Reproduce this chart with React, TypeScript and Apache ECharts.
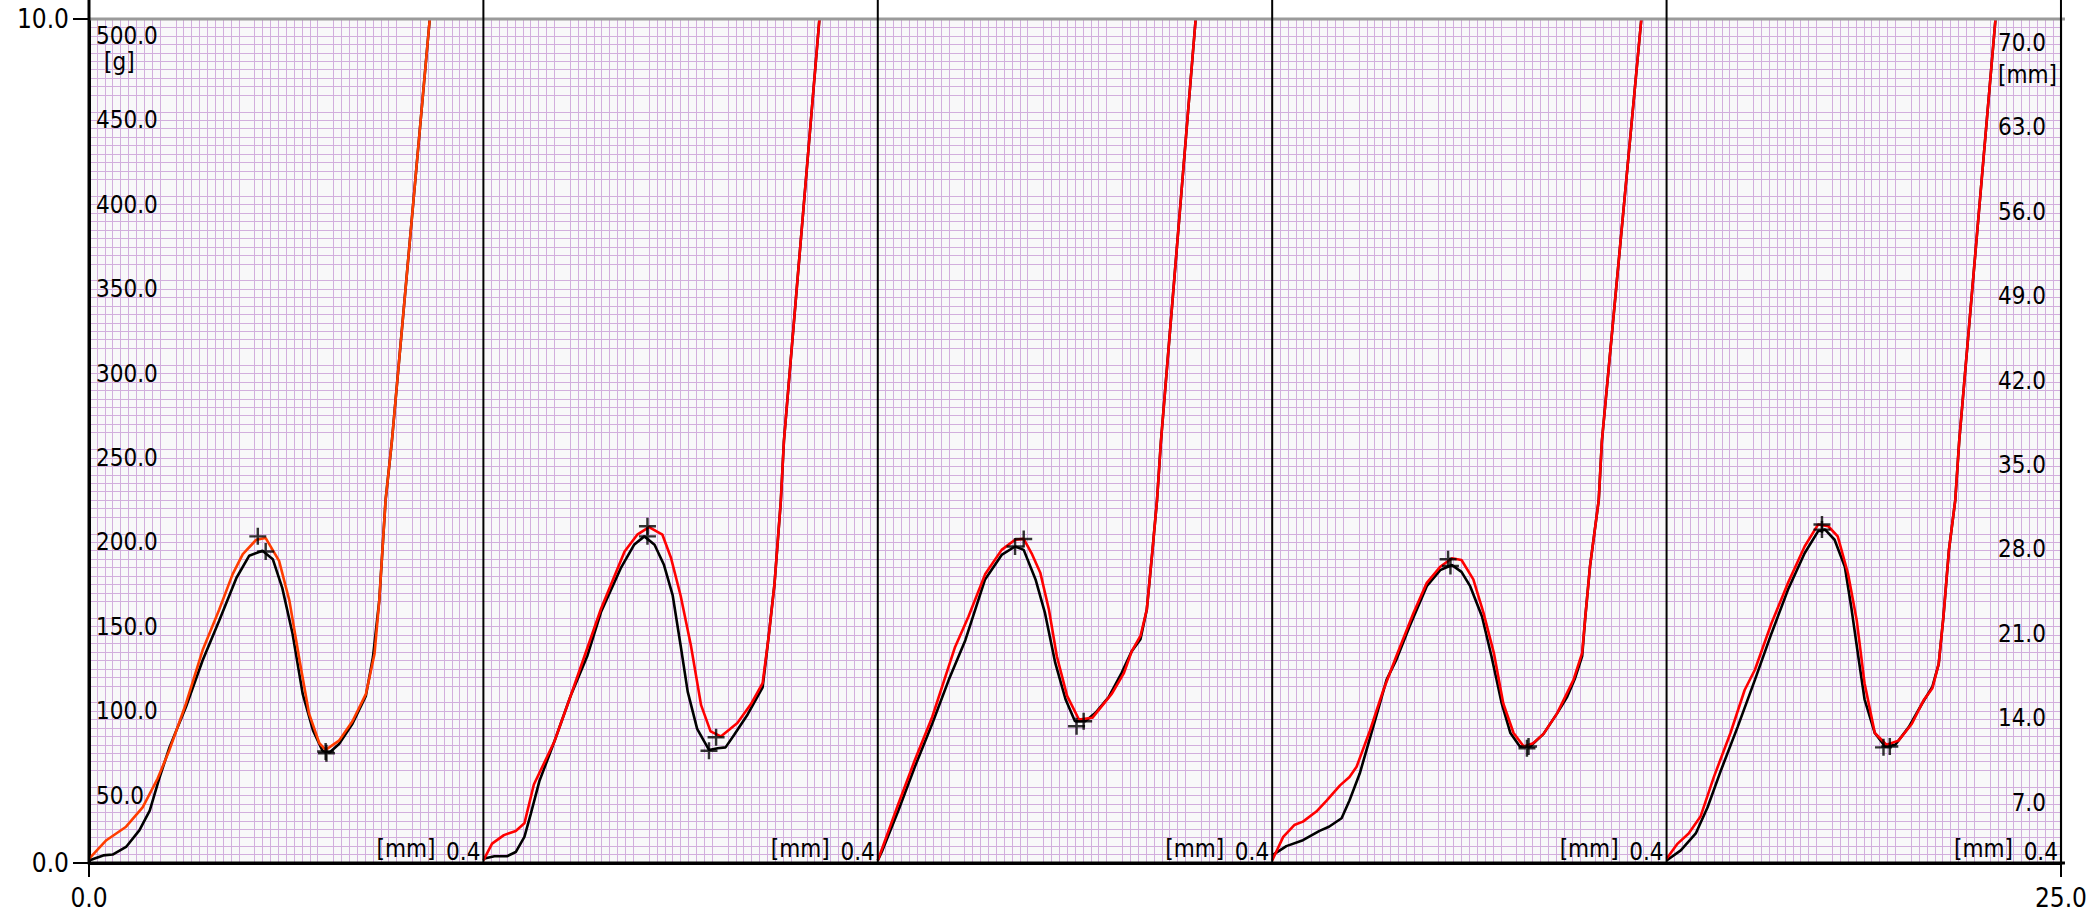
import React, { useEffect, useRef } from 'react';
import * as echarts from 'echarts';

const FONT = "'DejaVu Sans Condensed', 'DejaVu Sans', sans-serif";

const X_MIN = 0;
const X_MAX = 25;
const Y_MIN = 0;
const Y_MAX = 10;
const X_TICKS = [0, 25];
const Y_TICKS = [0, 10];
const PANEL_BOUNDS = [0, 5, 10, 15, 20, 25];

const LEFT_LABEL_POS = [10, 9, 8, 7, 6, 5, 4, 3, 2, 1];
const LEFT_LABELS = ['500.0', '450.0', '400.0', '350.0', '300.0', '250.0', '200.0', '150.0', '100.0', '50.0'];
const RIGHT_LABELS = ['70.0', '63.0', '56.0', '49.0', '42.0', '35.0', '28.0', '21.0', '14.0', '7.0'];

const P1_BLACK = [[0, 0.03], [0.18, 0.09], [0.3, 0.1], [0.47, 0.19], [0.64, 0.39], [0.77, 0.62], [0.89, 1.0], [1.02, 1.37], [1.23, 1.85], [1.44, 2.4], [1.65, 2.87], [1.87, 3.38], [2.03, 3.64], [2.2, 3.7], [2.33, 3.6], [2.45, 3.26], [2.58, 2.72], [2.71, 2.0], [2.84, 1.57], [2.96, 1.33], [3.05, 1.31], [3.17, 1.41], [3.34, 1.65], [3.51, 1.98], [3.6, 2.44], [3.68, 3.11], [3.76, 4.3], [3.84, 5], [4.32, 10]];
const P1_RED = [[0, 0.05], [0.22, 0.27], [0.47, 0.43], [0.68, 0.66], [0.87, 1.0], [1.02, 1.34], [1.23, 1.89], [1.44, 2.52], [1.65, 3.0], [1.82, 3.42], [1.95, 3.66], [2.12, 3.83], [2.24, 3.85], [2.41, 3.58], [2.54, 3.11], [2.67, 2.4], [2.79, 1.77], [2.92, 1.42], [3.0, 1.34], [3.17, 1.45], [3.34, 1.68], [3.51, 2.0], [3.62, 2.48], [3.68, 3.11], [3.76, 4.3], [3.84, 5], [4.32, 10]];
const P1_MARKS = [[2.14, 3.87], [2.24, 3.69], [3.01, 1.3], [3.0, 1.32]];

const P2_BLACK = [[5.0, 0.05], [5.14, 0.08], [5.3, 0.08], [5.41, 0.13], [5.52, 0.31], [5.6, 0.58], [5.71, 0.97], [5.9, 1.44], [6.11, 1.99], [6.32, 2.46], [6.49, 2.97], [6.74, 3.49], [6.91, 3.77], [7.04, 3.87], [7.17, 3.77], [7.29, 3.53], [7.4, 3.17], [7.5, 2.58], [7.59, 2.03], [7.71, 1.59], [7.86, 1.34], [7.97, 1.36], [8.07, 1.37], [8.18, 1.52], [8.35, 1.76], [8.54, 2.08], [8.6, 2.55], [8.69, 3.3], [8.77, 4.28], [8.81, 5], [9.26, 10]];
const P2_RED = [[5.0, 0.03], [5.11, 0.23], [5.26, 0.33], [5.41, 0.38], [5.52, 0.47], [5.64, 0.93], [5.9, 1.44], [6.11, 1.99], [6.49, 3.01], [6.79, 3.69], [6.95, 3.89], [7.1, 3.98], [7.27, 3.89], [7.38, 3.61], [7.5, 3.17], [7.63, 2.58], [7.76, 1.87], [7.88, 1.56], [8.01, 1.5], [8.22, 1.66], [8.39, 1.88], [8.54, 2.13], [8.62, 2.71], [8.69, 3.3], [8.77, 4.28], [8.81, 5], [9.26, 10]];
const P2_MARKS = [[7.08, 3.99], [7.08, 3.87], [7.95, 1.49], [7.86, 1.33]];

const P3_BLACK = [[10.0, 0.03], [10.05, 0.13], [10.26, 0.62], [10.47, 1.14], [10.69, 1.65], [10.9, 2.17], [11.11, 2.64], [11.36, 3.36], [11.57, 3.65], [11.74, 3.75], [11.85, 3.71], [12.0, 3.36], [12.12, 2.96], [12.25, 2.37], [12.38, 1.94], [12.5, 1.68], [12.63, 1.68], [12.76, 1.78], [12.93, 1.97], [13.09, 2.25], [13.22, 2.51], [13.33, 2.65], [13.41, 3.0], [13.48, 3.68], [13.54, 4.3], [13.59, 5], [14.03, 10]];
const P3_RED = [[10.0, 0.03], [10.26, 0.7], [10.47, 1.22], [10.69, 1.73], [10.98, 2.56], [11.15, 2.92], [11.36, 3.42], [11.57, 3.71], [11.74, 3.83], [11.85, 3.84], [11.95, 3.67], [12.06, 3.44], [12.17, 3.0], [12.27, 2.45], [12.4, 1.98], [12.55, 1.7], [12.72, 1.72], [12.97, 2.01], [13.12, 2.25], [13.22, 2.51], [13.33, 2.69], [13.41, 3.0], [13.48, 3.68], [13.54, 4.3], [13.59, 5], [14.03, 10]];
const P3_MARKS = [[11.85, 3.84], [11.74, 3.75], [12.61, 1.68], [12.52, 1.62]];

const P4_BLACK = [[15.0, 0.09], [15.18, 0.2], [15.39, 0.27], [15.6, 0.38], [15.72, 0.43], [15.88, 0.53], [15.98, 0.74], [16.11, 1.06], [16.28, 1.61], [16.45, 2.17], [16.57, 2.4], [16.74, 2.8], [16.96, 3.28], [17.13, 3.47], [17.28, 3.53], [17.4, 3.45], [17.51, 3.28], [17.66, 2.92], [17.78, 2.45], [17.91, 1.89], [18.02, 1.54], [18.14, 1.38], [18.27, 1.38], [18.44, 1.53], [18.61, 1.77], [18.74, 1.97], [18.84, 2.19], [18.93, 2.45], [18.97, 2.92], [19.03, 3.52], [19.14, 4.3], [19.18, 5], [19.68, 10]];
const P4_RED = [[15.0, 0.03], [15.14, 0.31], [15.28, 0.45], [15.39, 0.49], [15.56, 0.61], [15.69, 0.74], [15.86, 0.92], [15.98, 1.02], [16.07, 1.14], [16.24, 1.57], [16.41, 2.05], [16.57, 2.44], [16.79, 2.96], [16.96, 3.32], [17.13, 3.51], [17.28, 3.61], [17.4, 3.59], [17.55, 3.36], [17.68, 2.96], [17.81, 2.49], [17.93, 1.89], [18.06, 1.54], [18.19, 1.38], [18.31, 1.42], [18.44, 1.53], [18.61, 1.77], [18.82, 2.17], [18.93, 2.49], [18.97, 2.92], [19.03, 3.52], [19.14, 4.3], [19.18, 5], [19.68, 10]];
const P4_MARKS = [[17.23, 3.6], [17.26, 3.52], [18.23, 1.36], [18.25, 1.38]];

const P5_BLACK = [[20.0, 0.03], [20.18, 0.15], [20.37, 0.35], [20.52, 0.66], [20.69, 1.1], [20.9, 1.61], [21.12, 2.17], [21.33, 2.72], [21.54, 3.24], [21.75, 3.67], [21.92, 3.93], [22.01, 3.95], [22.13, 3.83], [22.26, 3.51], [22.34, 3.04], [22.43, 2.45], [22.51, 1.94], [22.64, 1.54], [22.77, 1.38], [22.9, 1.4], [23.07, 1.61], [23.24, 1.89], [23.37, 2.09], [23.45, 2.36], [23.51, 2.92], [23.58, 3.71], [23.66, 4.3], [23.71, 5], [24.17, 10]];
const P5_RED = [[20.0, 0.05], [20.14, 0.23], [20.28, 0.35], [20.43, 0.55], [20.6, 1.02], [20.81, 1.54], [20.99, 2.05], [21.12, 2.29], [21.33, 2.84], [21.54, 3.32], [21.75, 3.75], [21.92, 4.01], [22.05, 3.99], [22.17, 3.87], [22.3, 3.43], [22.41, 2.88], [22.51, 2.13], [22.64, 1.54], [22.79, 1.4], [22.94, 1.45], [23.11, 1.65], [23.26, 1.93], [23.37, 2.07], [23.45, 2.36], [23.51, 2.92], [23.58, 3.71], [23.66, 4.3], [23.71, 5], [24.17, 10]];
const P5_MARKS = [[21.97, 4.01], [21.97, 3.95], [22.75, 1.37], [22.83, 1.38]];

const BLACK_CURVES = [P1_BLACK, P2_BLACK, P3_BLACK, P4_BLACK, P5_BLACK];
const RED_CURVES = [P1_RED, P2_RED, P3_RED, P4_RED, P5_RED];
const RED_COLORS = ['#ff3d00', '#ff0000', '#ff0000', '#ff0000', '#ff0000'];
const MARKS = [P1_MARKS, P2_MARKS, P3_MARKS, P4_MARKS, P5_MARKS];

const PLUS = 'path://M-1.3,-9h2.6v18h-2.6z M-9,-1.3h18v2.6h-18z';

export default function App() {
  const ref = useRef<HTMLDivElement>(null);

  useEffect(() => {
    if (!ref.current) return;
    const chart = echarts.init(ref.current, null, { renderer: 'svg' });

    const series: any[] = [];
    BLACK_CURVES.forEach((d, i) => {
      series.push({
        type: 'line', name: 'black' + i, data: d, showSymbol: false, symbol: 'none',
        lineStyle: { color: '#000', width: 2.6 }, z: 3, silent: true,
      });
    });
    RED_CURVES.forEach((d, i) => {
      series.push({
        type: 'line', name: 'red' + i, data: d, showSymbol: false, symbol: 'none',
        lineStyle: { color: RED_COLORS[i], width: 2.6 }, z: 4, silent: true,
      });
    });
    series.push({
      type: 'scatter', name: 'marks', data: MARKS.flat(), symbol: PLUS, symbolSize: 17,
      itemStyle: { color: '#000' }, z: 5, silent: true,
    });

    chart.setOption({
      animation: false,
      grid: {
        left: 89, right: 29, top: 19, bottom: 57,
        show: true, backgroundColor: '#f8f8f9', borderWidth: 0,
      },
      xAxis: {
        type: 'value', min: X_MIN, max: X_MAX, interval: 1,
        axisLine: { show: true, onZero: false, lineStyle: { color: '#000', width: 3 } },
        axisTick: { show: true, customValues: X_TICKS, length: 14, lineStyle: { color: '#000', width: 2 } },
        axisLabel: {
          show: true, customValues: X_TICKS, formatter: (v: number) => v.toFixed(1),
          fontFamily: FONT, fontSize: 26, color: '#000', margin: 22,
        },
        splitLine: { show: true, lineStyle: { color: '#333333', width: 1.2 } },
        minorTick: { show: false, splitNumber: 10 },
        minorSplitLine: { show: true, lineStyle: { color: '#d2aedd', width: 1 } },
      },
      yAxis: {
        type: 'value', min: Y_MIN, max: Y_MAX, interval: 1,
        axisLine: { show: true, onZero: false, lineStyle: { color: '#000', width: 3 } },
        axisTick: { show: true, customValues: Y_TICKS, length: 16, lineStyle: { color: '#000', width: 2 } },
        axisLabel: {
          show: true, customValues: Y_TICKS, formatter: (v: number) => v.toFixed(1),
          fontFamily: FONT, fontSize: 26, color: '#000', margin: 20,
        },
        splitLine: { show: true, lineStyle: { color: '#25254d', width: 1.6 } },
        minorTick: { show: false, splitNumber: 10 },
        minorSplitLine: { show: true, lineStyle: { color: '#d2aedd', width: 1 } },
      },
      series,
    });

    const px = (x: number, y: number) => chart.convertToPixel({ gridIndex: 0 } as any, [x, y]) as number[];
    const [x0, y0] = px(X_MIN, Y_MIN);
    const [x25, y10] = px(X_MAX, Y_MAX);

    const g: any[] = [];
    g.push({ type: 'line', z: 10, shape: { x1: x0, y1: y10, x2: x25 + 4, y2: y10 }, style: { stroke: '#9a9a9a', lineWidth: 3 } });
    PANEL_BOUNDS.forEach((b) => {
      const [bx] = px(b, 0);
      const w = b === 0 ? 3 : 2;
      g.push({ type: 'line', z: 11, shape: { x1: bx, y1: 0, x2: bx, y2: y0 }, style: { stroke: '#000', lineWidth: w } });
    });
    g.push({ type: 'line', z: 11, shape: { x1: x0, y1: y0, x2: x25 + 4, y2: y0 }, style: { stroke: '#000', lineWidth: 3 } });

    const txt = (text: string, x: number, y: number, align: string) => ({
      type: 'text', z: 12, x, y,
      style: { text, fill: '#000', font: `24px ${FONT}`, align, verticalAlign: 'middle' },
    });

    LEFT_LABEL_POS.forEach((v, i) => {
      const [, ly] = px(0, v);
      g.push(txt(LEFT_LABELS[i], x0 + 7, ly + 17, 'left'));
      const [, ry] = px(25, v);
      g.push(txt(RIGHT_LABELS[i], x25 - 15, ry + 24, 'right'));
    });
    g.push(txt('[g]', x0 + 15, y10 + 43, 'left'));
    g.push(txt('[mm]', x25 - 4, y10 + 56, 'right'));

    PANEL_BOUNDS.slice(1).forEach((b) => {
      const [bx] = px(b, 0);
      g.push(txt('[mm]', bx - 48, y0 - 14, 'right'));
      g.push(txt('0.4', bx - 3, y0 - 11, 'right'));
    });

    chart.setOption({ graphic: g });

    return () => chart.dispose();
  }, []);

  return (
    <div
      ref={ref}
      style={{ position: 'fixed', left: 0, top: 0, width: 2090, height: 920, background: '#fff' }}
    />
  );
}
